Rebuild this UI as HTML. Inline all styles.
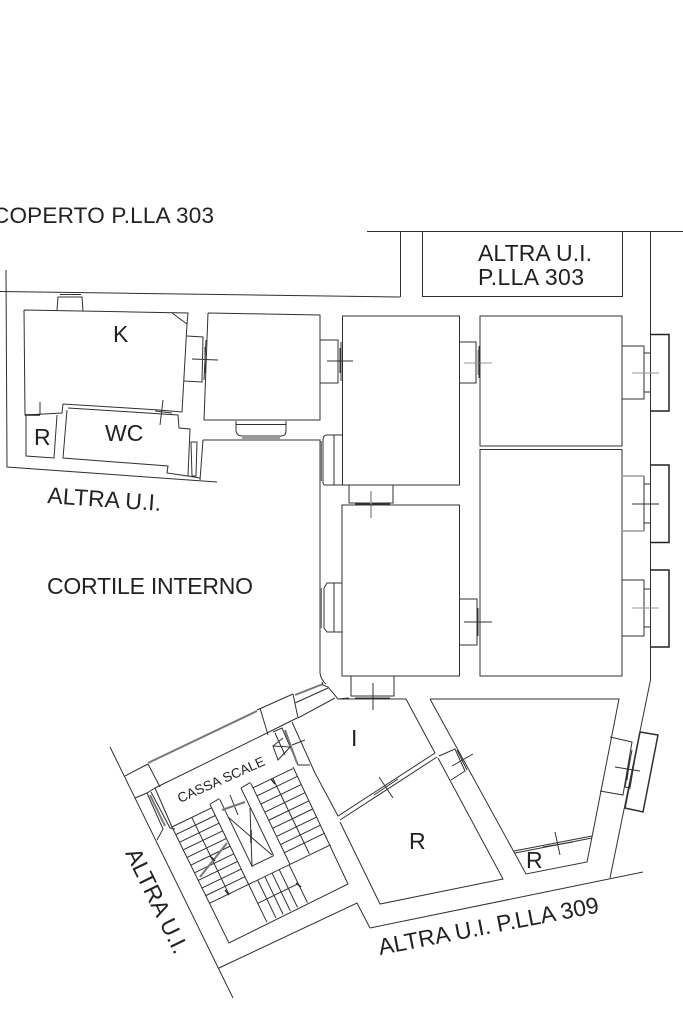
<!DOCTYPE html>
<html><head><meta charset="utf-8"><style>
html,body{margin:0;padding:0;background:#fff;width:683px;height:1023px;overflow:hidden}
svg{display:block;filter:blur(0.35px)}
text{font-family:"Liberation Sans",sans-serif;fill:#222;stroke:none}
.g{stroke:#999}
.d{stroke:#222;stroke-width:1.5}
.h{stroke:#777;stroke-width:2}
</style></head><body>
<svg width="683" height="1023" viewBox="0 0 683 1023" fill="none" stroke="#303030" stroke-width="1">
<!-- outer lines -->
<path d="M367 231.500H683M400.500 231V297M0 291.500L400 297M422.500 231V296.500H622.500V231M650.500 231V680L610 878"/>
<path d="M6 270L7 467L217 482"/>
<path d="M370 928L643 872M370 928L357 903L219 968M110 747L233 998"/>
<path d="M203 440H320V673Q321 680 326 684M203 440L200 480"/>
<!-- K -->
<path d="M24 310L188 313L187 324L182 412L159 410L63 404L62 413L25 415L24 310M172 313L187 324"/>
<path d="M57 310L58 297H82L83 311M60 294.500H81" />
<path d="M26 415V456L54 458L57 415M40 402V415" />
<path class="d" d="M25 415H40"/>
<path d="M68 408L178 415L179 428L190 429L188 476L167 473L168 466L63 458L67 410"/>
<path d="M163 400L160 425M155 411L172 413"/>
<path d="M187 336L203 337L202 382L184 381M206 340L204 380M192 359L218 360M205 347V373"/>
<path d="M191 442H197L196 476H192ZM188 476L200 478"/>
<!-- room 2 -->
<path d="M208 313L320 315V420H204L208 313"/>
<path d="M236 421V431Q237 436 242 436H281Q286 436 286 431V421M236 424.500H286"/>
<path class="g" stroke-width="2" d="M242 438H280"/>
<path d="M320.500 340H338V383H320.500M341 342V381M327 361H353M340 348V373"/>
<!-- room 3 -->
<rect x="342.500" y="316" width="117" height="169"/>
<path d="M325 485Q323 485 323 482V440Q323 435 327 435H342M325 485H342M334 435V485"/>
<path class="h" d="M321 441V481"/>
<path d="M349 485V503H393V485M355 504H390"/>
<path class="g" stroke-width="1.500" d="M371 491V518"/>
<!-- door 3-4 -->
<path d="M459 342H476V383H459M479 346V378"/>
<path class="g" d="M464 363H492M478 350V375"/>
<!-- rooms 4, 5 -->
<rect x="480" y="316" width="142" height="130"/>
<rect x="480" y="449.500" width="142" height="226.500"/>
<!-- right doors -->
<path d="M622 346H644V399H622M644 353H650M644 392H650M644 353V392"/>
<path class="d" d="M650 334.500H669V411H650"/>
<path class="g" d="M632 373H659"/>
<path d="M644 476V531M644 484H650M644 523H650"/>
<path class="g" stroke-width="1.500" d="M622 476H644M622 531H644"/>
<path class="d" d="M650 465H669V542.500H650"/>
<path d="M632 504H659"/>
<path d="M622 580H644V636H622M644 589H650M644 627H650"/>
<path class="d" d="M650 570H669V647H650"/>
<path class="g" d="M632 608H659"/>
<!-- room 6 -->
<rect x="342" y="505" width="117.500" height="171"/>
<path d="M342 583H327L324 588V628L327 632H342M334 583V632"/>
<path class="h" d="M321 588V628"/>
<path d="M459 599H477V645H459M480 605V637M464 622H492M478 608V636"/>
<path d="M351 676V696H394V676M355 698H390M373 683V710"/>
<!-- room I -->
<path d="M338 699L343 699H406L435 753L338 816L315 773"/>
<path d="M437 757L340 820"/>
<path d="M379 777L393 798M374 795L398 779"/>
<!-- room R -->
<path d="M340 822L380 904L503 879L438 758"/>
<path d="M439 756L455 749L465 771L451 780M452 766L473 754M457 750L467 770"/>
<!-- big room -->
<path d="M430 699H619L592 837L587 862L526 874L514 852L430 699"/>
<path d="M514 851L592 836M515 853L592 838"/>
<path d="M555 832L560 855M543 847L573 842"/>
<path d="M610 737L632 742L623 795L600 791M632 750L625 787L630 788L636 752"/>
<path stroke-width="1.500" d="M640 732L658 735L643 812L625 808L640 732"/>
<path d="M615 767L640 771M630 758L627 780"/>
<!-- stair outer -->
<path d="M155 788L267 733L297 718M293 767L348 884L229 943L172 827L155 788"/>
<path d="M125 776L148 764M148 764L160 787M257 710L293 694M260 708L268 735"/>
<path class="h" stroke="#666" d="M148 763L257 711M295 695L323 684"/>
<path d="M293 694L298 718L335 698M295 703L328 688M322 682L323 685L328 687L338 699L349 698"/>
<path d="M135 798L147 793L155 788M147 793L163 829L157 840M151 792L170 828L175 829"/>
<path class="h" stroke="#666" d="M150 795L165 826"/>
<!-- top right stair door -->
<path d="M273 732L282 728L298 765H310M292 722L315 773M275 733L285 755"/>
<path class="h" stroke="#666" stroke-width="1.500" d="M285 730L297 763"/>
<path d="M273 746L290 747L278 760ZM273 746L283 738M292 745L305 740"/>
<g transform="translate(172 827) rotate(-25.800)">
<path d="M0 0H44M0 8.500H44M0 17H44M0 25.500H44M0 34H44M0 42.500H44M0 51H44M0 59.500H44M0 68H44M0 76.500H44M0 85H135M22 0V85M44 -4V85M55 -4V70M44 -4L55 -5"/>
<path d="M79 -5V70M90 -5V85M79 -5L90 -6M90 0H134M90 9H135M90 18H135M90 27H135M90 36H135M90 45H135M90 54H135M90 63H135M90 72H135M112 0V84"/>
<path d="M55 70H79M54 85V127M62 85V127M70 85V127M78 85V127M89 85V127M44 106H89M44 85V127"/>
</g>
<path d="M250 808L252 867M230 795L238 815M228 817L272 855" />
<path class="d" stroke-width="2" d="M251 830V843"/>
<path class="h" stroke="#888" d="M200 877L227 843M222 810L245 802"/>
<path d="M271 779L275 784M225 890L229 895M296 883L301 887M210 856L215 861" stroke-width="1.500"/>
<!-- labels -->
<text x="-7" y="223" font-size="22.500" textLength="221" lengthAdjust="spacing">COPERTO P.LLA 303</text>
<text x="478" y="261" font-size="23" textLength="114" lengthAdjust="spacing">ALTRA U.I.</text>
<text x="478" y="285" font-size="23" textLength="106" lengthAdjust="spacing">P.LLA 303</text>
<text x="113" y="342" font-size="23">K</text>
<text x="105" y="441" font-size="23">WC</text>
<text x="34" y="445" font-size="23">R</text>
<text transform="translate(47 503) rotate(4)" font-size="23" textLength="114" lengthAdjust="spacing">ALTRA U.I.</text>
<text x="47" y="594" font-size="23" textLength="206" lengthAdjust="spacing">CORTILE INTERNO</text>
<text x="351" y="746" font-size="23">I</text>
<text x="409" y="849" font-size="23">R</text>
<text x="526" y="868" font-size="23">R</text>
<text transform="translate(380 955) rotate(-11)" font-size="23" textLength="224" lengthAdjust="spacing">ALTRA U.I. P.LLA 309</text>
<text transform="translate(125 853) rotate(64)" font-size="23" textLength="114" lengthAdjust="spacing">ALTRA U.I.</text>
<text transform="translate(180 803) rotate(-24)" font-size="13.500" textLength="94" lengthAdjust="spacing">CASSA SCALE</text>
</svg>
</body></html>
